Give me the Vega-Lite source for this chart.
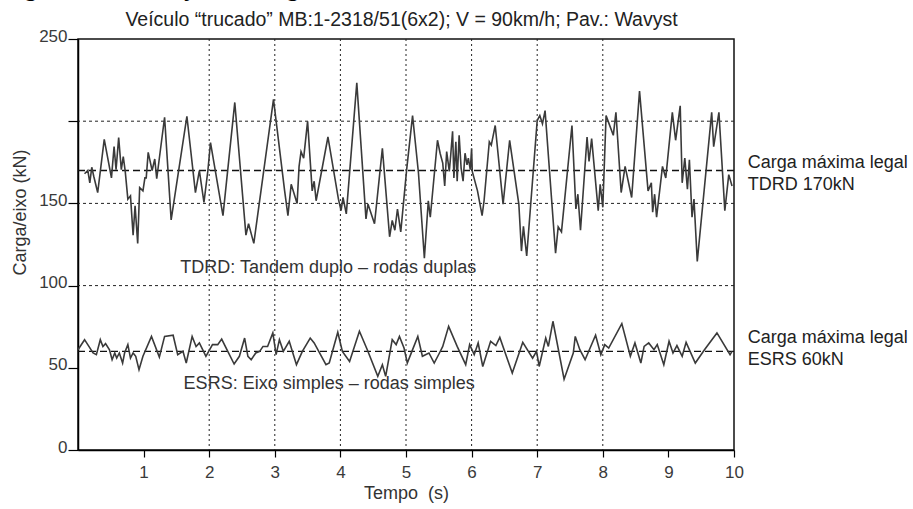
{
  "$schema": "https://vega.github.io/schema/vega-lite/v6.json",
  "width": 656,
  "height": 411,
  "autosize": {"type": "none"},
  "padding": {"left": 78, "top": 39, "right": 179, "bottom": 59},
  "background": "white",
  "config": {
    "view": {"stroke": "#111", "strokeWidth": 1.5},
    "font": "Liberation Sans",
    "axis": {"labelFont": "Liberation Sans", "titleFont": "Liberation Sans", "labelColor": "#3a3a3a", "titleColor": "#333", "titleFontWeight": "normal"}
  },
  "title": {
    "text": "Figura 1.11 Variação da carga dinâmica",
    "anchor": "start",
    "frame": "bounds",
    "font": "Liberation Serif",
    "fontSize": 24,
    "fontWeight": "bold",
    "color": "#000",
    "offset": 8,
    "dx": -8
  },
  "datasets": {
    "vgrid": [{"t": 2}, {"t": 3}, {"t": 4}, {"t": 5}, {"t": 6}, {"t": 7}, {"t": 8}],
    "hgrid": [{"v": 100}, {"v": 150}, {"v": 200}],
    "limits": [{"v": 170}, {"v": 60}],
    "series": [
      {"s": "TDRD", "t": 0.10, "v": 168}, {"s": "TDRD", "t": 0.15, "v": 170}, {"s": "TDRD", "t": 0.18, "v": 162.5}, {"s": "TDRD", "t": 0.21, "v": 172}, {"s": "TDRD", "t": 0.24, "v": 166.5}, {"s": "TDRD", "t": 0.30, "v": 156.6}, {"s": "TDRD", "t": 0.40, "v": 189}, {"s": "TDRD", "t": 0.51, "v": 165.5}, {"s": "TDRD", "t": 0.55, "v": 184.5}, {"s": "TDRD", "t": 0.58, "v": 170.5}, {"s": "TDRD", "t": 0.62, "v": 190}, {"s": "TDRD", "t": 0.66, "v": 170.5}, {"s": "TDRD", "t": 0.69, "v": 178.5}, {"s": "TDRD", "t": 0.72, "v": 169.5}, {"s": "TDRD", "t": 0.76, "v": 152.6}, {"s": "TDRD", "t": 0.80, "v": 154.6}, {"s": "TDRD", "t": 0.84, "v": 130.7}, {"s": "TDRD", "t": 0.87, "v": 148.6}, {"s": "TDRD", "t": 0.91, "v": 125.7}, {"s": "TDRD", "t": 0.94, "v": 159.6}, {"s": "TDRD", "t": 0.99, "v": 157.6}, {"s": "TDRD", "t": 1.02, "v": 165.5}, {"s": "TDRD", "t": 1.04, "v": 165.5}, {"s": "TDRD", "t": 1.07, "v": 181}, {"s": "TDRD", "t": 1.13, "v": 170}, {"s": "TDRD", "t": 1.17, "v": 177}, {"s": "TDRD", "t": 1.20, "v": 165}, {"s": "TDRD", "t": 1.32, "v": 202.4}, {"s": "TDRD", "t": 1.42, "v": 140}, {"s": "TDRD", "t": 1.66, "v": 203}, {"s": "TDRD", "t": 1.79, "v": 156.6}, {"s": "TDRD", "t": 1.85, "v": 170}, {"s": "TDRD", "t": 1.92, "v": 150.6}, {"s": "TDRD", "t": 1.98, "v": 170}, {"s": "TDRD", "t": 2.02, "v": 187}, {"s": "TDRD", "t": 2.21, "v": 142.6}, {"s": "TDRD", "t": 2.39, "v": 211.4}, {"s": "TDRD", "t": 2.56, "v": 130.7}, {"s": "TDRD", "t": 2.60, "v": 137.6}, {"s": "TDRD", "t": 2.68, "v": 125.7}, {"s": "TDRD", "t": 2.98, "v": 213.3}, {"s": "TDRD", "t": 3.15, "v": 157.6}, {"s": "TDRD", "t": 3.20, "v": 142.6}, {"s": "TDRD", "t": 3.25, "v": 161.6}, {"s": "TDRD", "t": 3.34, "v": 150}, {"s": "TDRD", "t": 3.37, "v": 172.5}, {"s": "TDRD", "t": 3.40, "v": 181.5}, {"s": "TDRD", "t": 3.44, "v": 177.5}, {"s": "TDRD", "t": 3.50, "v": 200}, {"s": "TDRD", "t": 3.57, "v": 157.6}, {"s": "TDRD", "t": 3.60, "v": 163.5}, {"s": "TDRD", "t": 3.63, "v": 151.6}, {"s": "TDRD", "t": 3.81, "v": 190.4}, {"s": "TDRD", "t": 3.97, "v": 152.6}, {"s": "TDRD", "t": 4.01, "v": 145.6}, {"s": "TDRD", "t": 4.04, "v": 153.6}, {"s": "TDRD", "t": 4.09, "v": 143.6}, {"s": "TDRD", "t": 4.25, "v": 223.3}, {"s": "TDRD", "t": 4.39, "v": 140.6}, {"s": "TDRD", "t": 4.42, "v": 149.6}, {"s": "TDRD", "t": 4.52, "v": 137.6}, {"s": "TDRD", "t": 4.64, "v": 183.5}, {"s": "TDRD", "t": 4.75, "v": 129.7}, {"s": "TDRD", "t": 4.79, "v": 139.6}, {"s": "TDRD", "t": 4.83, "v": 133.7}, {"s": "TDRD", "t": 4.87, "v": 146.6}, {"s": "TDRD", "t": 4.92, "v": 132.7}, {"s": "TDRD", "t": 5.01, "v": 170.5}, {"s": "TDRD", "t": 5.10, "v": 203.4}, {"s": "TDRD", "t": 5.19, "v": 168.5}, {"s": "TDRD", "t": 5.28, "v": 116.7}, {"s": "TDRD", "t": 5.34, "v": 151.6}, {"s": "TDRD", "t": 5.37, "v": 141.6}, {"s": "TDRD", "t": 5.48, "v": 188.4}, {"s": "TDRD", "t": 5.52, "v": 180.5}, {"s": "TDRD", "t": 5.56, "v": 174.5}, {"s": "TDRD", "t": 5.59, "v": 160.6}, {"s": "TDRD", "t": 5.62, "v": 181.5}, {"s": "TDRD", "t": 5.66, "v": 169.5}, {"s": "TDRD", "t": 5.68, "v": 178.5}, {"s": "TDRD", "t": 5.71, "v": 193.8}, {"s": "TDRD", "t": 5.73, "v": 165.5}, {"s": "TDRD", "t": 5.76, "v": 187.5}, {"s": "TDRD", "t": 5.78, "v": 163.5}, {"s": "TDRD", "t": 5.81, "v": 191.4}, {"s": "TDRD", "t": 5.84, "v": 171.5}, {"s": "TDRD", "t": 5.87, "v": 163.5}, {"s": "TDRD", "t": 5.90, "v": 180.5}, {"s": "TDRD", "t": 5.93, "v": 173.5}, {"s": "TDRD", "t": 5.95, "v": 177.5}, {"s": "TDRD", "t": 5.98, "v": 170.5}, {"s": "TDRD", "t": 6.00, "v": 183.5}, {"s": "TDRD", "t": 6.01, "v": 169.5}, {"s": "TDRD", "t": 6.09, "v": 157.6}, {"s": "TDRD", "t": 6.16, "v": 142.6}, {"s": "TDRD", "t": 6.19, "v": 151.6}, {"s": "TDRD", "t": 6.27, "v": 187.5}, {"s": "TDRD", "t": 6.30, "v": 185.5}, {"s": "TDRD", "t": 6.36, "v": 197.4}, {"s": "TDRD", "t": 6.48, "v": 149.6}, {"s": "TDRD", "t": 6.58, "v": 188.4}, {"s": "TDRD", "t": 6.72, "v": 149.6}, {"s": "TDRD", "t": 6.76, "v": 121}, {"s": "TDRD", "t": 6.79, "v": 136}, {"s": "TDRD", "t": 6.84, "v": 118}, {"s": "TDRD", "t": 7.00, "v": 200.4}, {"s": "TDRD", "t": 7.04, "v": 203.4}, {"s": "TDRD", "t": 7.08, "v": 198.4}, {"s": "TDRD", "t": 7.12, "v": 206.4}, {"s": "TDRD", "t": 7.28, "v": 119.7}, {"s": "TDRD", "t": 7.32, "v": 135.7}, {"s": "TDRD", "t": 7.37, "v": 132.7}, {"s": "TDRD", "t": 7.53, "v": 197.4}, {"s": "TDRD", "t": 7.59, "v": 146.6}, {"s": "TDRD", "t": 7.62, "v": 155.6}, {"s": "TDRD", "t": 7.66, "v": 133.7}, {"s": "TDRD", "t": 7.76, "v": 190.4}, {"s": "TDRD", "t": 7.79, "v": 175.5}, {"s": "TDRD", "t": 7.83, "v": 189.4}, {"s": "TDRD", "t": 7.93, "v": 145.6}, {"s": "TDRD", "t": 7.96, "v": 161.6}, {"s": "TDRD", "t": 8.00, "v": 147.6}, {"s": "TDRD", "t": 8.05, "v": 203.4}, {"s": "TDRD", "t": 8.16, "v": 191.4}, {"s": "TDRD", "t": 8.20, "v": 205.4}, {"s": "TDRD", "t": 8.28, "v": 156.6}, {"s": "TDRD", "t": 8.34, "v": 172.5}, {"s": "TDRD", "t": 8.44, "v": 153.6}, {"s": "TDRD", "t": 8.56, "v": 218.3}, {"s": "TDRD", "t": 8.69, "v": 157.6}, {"s": "TDRD", "t": 8.74, "v": 162.5}, {"s": "TDRD", "t": 8.76, "v": 144.6}, {"s": "TDRD", "t": 8.79, "v": 155.6}, {"s": "TDRD", "t": 8.82, "v": 141.6}, {"s": "TDRD", "t": 8.91, "v": 172.5}, {"s": "TDRD", "t": 8.96, "v": 165.5}, {"s": "TDRD", "t": 9.06, "v": 205.4}, {"s": "TDRD", "t": 9.11, "v": 188.4}, {"s": "TDRD", "t": 9.18, "v": 209.4}, {"s": "TDRD", "t": 9.21, "v": 162.5}, {"s": "TDRD", "t": 9.25, "v": 177.5}, {"s": "TDRD", "t": 9.29, "v": 158.6}, {"s": "TDRD", "t": 9.32, "v": 176.5}, {"s": "TDRD", "t": 9.36, "v": 141.6}, {"s": "TDRD", "t": 9.39, "v": 152.6}, {"s": "TDRD", "t": 9.44, "v": 114.7}, {"s": "TDRD", "t": 9.66, "v": 205.4}, {"s": "TDRD", "t": 9.69, "v": 184.5}, {"s": "TDRD", "t": 9.77, "v": 205.4}, {"s": "TDRD", "t": 9.86, "v": 145.6}, {"s": "TDRD", "t": 9.92, "v": 167.5}, {"s": "TDRD", "t": 9.97, "v": 160.6},
      {"s": "ESRS", "t": 0.00, "v": 61}, {"s": "ESRS", "t": 0.10, "v": 67.1}, {"s": "ESRS", "t": 0.23, "v": 59}, {"s": "ESRS", "t": 0.28, "v": 58}, {"s": "ESRS", "t": 0.34, "v": 67.1}, {"s": "ESRS", "t": 0.38, "v": 63}, {"s": "ESRS", "t": 0.42, "v": 64.7}, {"s": "ESRS", "t": 0.48, "v": 61}, {"s": "ESRS", "t": 0.52, "v": 54.9}, {"s": "ESRS", "t": 0.56, "v": 59}, {"s": "ESRS", "t": 0.59, "v": 55.9}, {"s": "ESRS", "t": 0.63, "v": 59}, {"s": "ESRS", "t": 0.68, "v": 52.9}, {"s": "ESRS", "t": 0.71, "v": 59}, {"s": "ESRS", "t": 0.76, "v": 64.1}, {"s": "ESRS", "t": 0.80, "v": 55.9}, {"s": "ESRS", "t": 0.84, "v": 59}, {"s": "ESRS", "t": 0.88, "v": 57}, {"s": "ESRS", "t": 0.93, "v": 48.8}, {"s": "ESRS", "t": 0.99, "v": 57}, {"s": "ESRS", "t": 1.12, "v": 69.1}, {"s": "ESRS", "t": 1.24, "v": 56.5}, {"s": "ESRS", "t": 1.32, "v": 69.1}, {"s": "ESRS", "t": 1.45, "v": 69.8}, {"s": "ESRS", "t": 1.52, "v": 58}, {"s": "ESRS", "t": 1.60, "v": 60}, {"s": "ESRS", "t": 1.65, "v": 52.9}, {"s": "ESRS", "t": 1.74, "v": 69.1}, {"s": "ESRS", "t": 1.80, "v": 63}, {"s": "ESRS", "t": 1.85, "v": 65.1}, {"s": "ESRS", "t": 1.95, "v": 57}, {"s": "ESRS", "t": 2.05, "v": 64.1}, {"s": "ESRS", "t": 2.13, "v": 64.1}, {"s": "ESRS", "t": 2.19, "v": 67.5}, {"s": "ESRS", "t": 2.27, "v": 61}, {"s": "ESRS", "t": 2.38, "v": 52.3}, {"s": "ESRS", "t": 2.46, "v": 57}, {"s": "ESRS", "t": 2.54, "v": 68.1}, {"s": "ESRS", "t": 2.59, "v": 57}, {"s": "ESRS", "t": 2.64, "v": 54.9}, {"s": "ESRS", "t": 2.71, "v": 59}, {"s": "ESRS", "t": 2.77, "v": 60}, {"s": "ESRS", "t": 2.82, "v": 63}, {"s": "ESRS", "t": 2.89, "v": 63}, {"s": "ESRS", "t": 2.97, "v": 71.2}, {"s": "ESRS", "t": 3.02, "v": 58}, {"s": "ESRS", "t": 3.07, "v": 67.1}, {"s": "ESRS", "t": 3.13, "v": 60}, {"s": "ESRS", "t": 3.22, "v": 66.1}, {"s": "ESRS", "t": 3.33, "v": 51.9}, {"s": "ESRS", "t": 3.42, "v": 60}, {"s": "ESRS", "t": 3.54, "v": 68.1}, {"s": "ESRS", "t": 3.60, "v": 65.1}, {"s": "ESRS", "t": 3.78, "v": 51.9}, {"s": "ESRS", "t": 3.83, "v": 52.9}, {"s": "ESRS", "t": 3.96, "v": 71.6}, {"s": "ESRS", "t": 4.03, "v": 60}, {"s": "ESRS", "t": 4.14, "v": 53.9}, {"s": "ESRS", "t": 4.29, "v": 72.2}, {"s": "ESRS", "t": 4.41, "v": 61}, {"s": "ESRS", "t": 4.57, "v": 44.8}, {"s": "ESRS", "t": 4.64, "v": 51.9}, {"s": "ESRS", "t": 4.69, "v": 44.8}, {"s": "ESRS", "t": 4.79, "v": 67.1}, {"s": "ESRS", "t": 4.85, "v": 64.1}, {"s": "ESRS", "t": 4.90, "v": 69.1}, {"s": "ESRS", "t": 4.97, "v": 62}, {"s": "ESRS", "t": 5.02, "v": 52.9}, {"s": "ESRS", "t": 5.09, "v": 60}, {"s": "ESRS", "t": 5.18, "v": 69.1}, {"s": "ESRS", "t": 5.25, "v": 57}, {"s": "ESRS", "t": 5.35, "v": 59}, {"s": "ESRS", "t": 5.43, "v": 52.9}, {"s": "ESRS", "t": 5.51, "v": 59}, {"s": "ESRS", "t": 5.56, "v": 63}, {"s": "ESRS", "t": 5.65, "v": 75.2}, {"s": "ESRS", "t": 5.78, "v": 63}, {"s": "ESRS", "t": 5.91, "v": 51.9}, {"s": "ESRS", "t": 5.97, "v": 64.1}, {"s": "ESRS", "t": 6.04, "v": 58}, {"s": "ESRS", "t": 6.10, "v": 65.1}, {"s": "ESRS", "t": 6.17, "v": 50.8}, {"s": "ESRS", "t": 6.29, "v": 66.1}, {"s": "ESRS", "t": 6.37, "v": 63.5}, {"s": "ESRS", "t": 6.43, "v": 68.5}, {"s": "ESRS", "t": 6.62, "v": 46.8}, {"s": "ESRS", "t": 6.78, "v": 65.5}, {"s": "ESRS", "t": 6.93, "v": 55.9}, {"s": "ESRS", "t": 6.99, "v": 60}, {"s": "ESRS", "t": 7.03, "v": 50.8}, {"s": "ESRS", "t": 7.13, "v": 68.1}, {"s": "ESRS", "t": 7.17, "v": 63}, {"s": "ESRS", "t": 7.24, "v": 78.3}, {"s": "ESRS", "t": 7.41, "v": 43.1}, {"s": "ESRS", "t": 7.55, "v": 59}, {"s": "ESRS", "t": 7.58, "v": 69.1}, {"s": "ESRS", "t": 7.65, "v": 61}, {"s": "ESRS", "t": 7.73, "v": 54.9}, {"s": "ESRS", "t": 7.89, "v": 69.8}, {"s": "ESRS", "t": 7.97, "v": 58}, {"s": "ESRS", "t": 8.03, "v": 64.1}, {"s": "ESRS", "t": 8.09, "v": 62}, {"s": "ESRS", "t": 8.29, "v": 76.9}, {"s": "ESRS", "t": 8.42, "v": 57}, {"s": "ESRS", "t": 8.49, "v": 65.1}, {"s": "ESRS", "t": 8.58, "v": 52.9}, {"s": "ESRS", "t": 8.63, "v": 63}, {"s": "ESRS", "t": 8.70, "v": 65.1}, {"s": "ESRS", "t": 8.78, "v": 61}, {"s": "ESRS", "t": 8.83, "v": 64.1}, {"s": "ESRS", "t": 8.93, "v": 51.9}, {"s": "ESRS", "t": 9.01, "v": 66.1}, {"s": "ESRS", "t": 9.07, "v": 59}, {"s": "ESRS", "t": 9.13, "v": 63.5}, {"s": "ESRS", "t": 9.21, "v": 57}, {"s": "ESRS", "t": 9.27, "v": 65.5}, {"s": "ESRS", "t": 9.41, "v": 52.9}, {"s": "ESRS", "t": 9.55, "v": 61}, {"s": "ESRS", "t": 9.74, "v": 71.2}, {"s": "ESRS", "t": 9.94, "v": 58}, {"s": "ESRS", "t": 9.97, "v": 60}
    ],
    "inner": [
      {"t": 1.56, "v": 110.5, "label": "TDRD: Tandem duplo – rodas duplas"},
      {"t": 1.61, "v": 40, "label": "ESRS: Eixo simples – rodas simples"}
    ],
    "side": [
      {"t": 10.21, "v": 171.6, "label": "Carga máxima legal\nTDRD 170kN"},
      {"t": 10.21, "v": 65.1, "label": "Carga máxima legal\nESRS 60kN"}
    ]
  },
  "layer": [
    {
      "data": {"name": "vgrid"},
      "mark": {"type": "rule", "color": "#222", "strokeWidth": 1, "strokeDash": [2, 3]},
      "encoding": {
        "x": {
          "field": "t", "type": "quantitative",
          "scale": {"domain": [0, 10], "nice": false, "zero": false},
          "axis": {
            "orient": "top", "labels": false, "ticks": false, "domain": false, "grid": false,
            "title": "Veículo “trucado” MB:1-2318/51(6x2); V = 90km/h; Pav.: Wavyst",
            "titleX": 323, "titleY": -14, "titleAlign": "center", "titleBaseline": "alphabetic", "titleAngle": 0,
            "titleFont": "Liberation Sans", "titleFontSize": 19.5, "titleFontWeight": "normal", "titleColor": "#222"
          }
        }
      }
    },
    {
      "data": {"name": "hgrid"},
      "mark": {"type": "rule", "color": "#222", "strokeWidth": 1, "strokeDash": [3, 3]},
      "encoding": {
        "y": {"field": "v", "type": "quantitative", "scale": {"domain": [0, 250], "nice": false}, "axis": null}
      }
    },
    {
      "data": {"name": "limits"},
      "mark": {"type": "rule", "color": "#111", "strokeWidth": 1.3, "strokeDash": [7, 4]},
      "encoding": {
        "y": {"field": "v", "type": "quantitative", "scale": {"domain": [0, 250], "nice": false}, "axis": null}
      }
    },
    {
      "data": {"name": "series"},
      "mark": {"type": "line", "color": "#3a3a3a", "strokeWidth": 1.6},
      "encoding": {
        "x": {
          "field": "t", "type": "quantitative",
          "scale": {"domain": [0, 10], "nice": false, "zero": false},
          "axis": {
            "orient": "bottom", "values": [1, 2, 3, 4, 5, 6, 7, 8, 9, 10], "grid": false,
            "title": "Tempo\u00a0\u00a0(s)", "titleFontSize": 18, "titlePadding": 4,
            "labelFontSize": 17, "labelPadding": 7, "labelFlush": false,
            "tickSize": 7, "tickColor": "#000", "tickWidth": 1.2,
            "domainColor": "#000", "domainWidth": 1.5
          }
        },
        "y": {
          "field": "v", "type": "quantitative",
          "scale": {"domain": [0, 250], "nice": false},
          "axis": {
            "orient": "left",
            "values": [0, 50, 100, 150, 200, 250], "grid": false,
            "labelExpr": "datum.value == 200 ? '' : datum.label",
            "title": "Carga/eixo (kN)", "titleFontSize": 18,
            "titleX": -57.5, "titleY": 173, "titleAngle": -90, "titleAlign": "center", "titleBaseline": "middle",
            "labelFontSize": 17, "labelPadding": 1, "labelOffset": -3, "labelFlush": false,
            "tickSize": 10, "tickColor": "#000", "tickWidth": 1.2,
            "domainColor": "#000", "domainWidth": 1.5
          }
        },
        "detail": {"field": "s", "type": "nominal"}
      }
    },
    {
      "data": {"name": "inner"},
      "mark": {"type": "text", "align": "left", "baseline": "middle", "font": "Liberation Sans", "fontSize": 18, "color": "#333"},
      "encoding": {
        "x": {"field": "t", "type": "quantitative", "scale": {"domain": [0, 10], "nice": false, "zero": false}, "axis": null},
        "y": {"field": "v", "type": "quantitative", "scale": {"domain": [0, 250], "nice": false}, "axis": null},
        "text": {"field": "label"}
      }
    },
    {
      "data": {"name": "side"},
      "mark": {"type": "text", "align": "left", "baseline": "alphabetic", "font": "Liberation Sans", "fontSize": 18, "color": "#222", "lineBreak": "\n", "lineHeight": 22},
      "encoding": {
        "x": {"field": "t", "type": "quantitative", "scale": {"domain": [0, 10], "nice": false, "zero": false}, "axis": null},
        "y": {"field": "v", "type": "quantitative", "scale": {"domain": [0, 250], "nice": false}, "axis": null},
        "text": {"field": "label"}
      }
    }
  ],
  "resolve": {"axis": {"x": "independent", "y": "independent"}}
}
